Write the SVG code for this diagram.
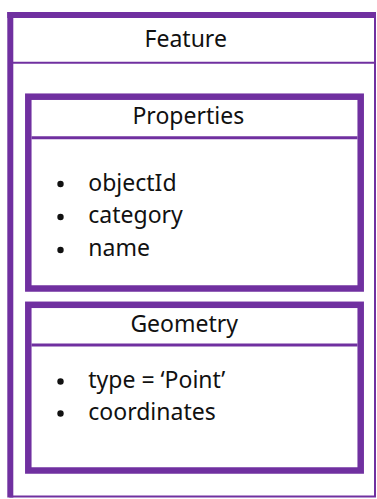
<svg xmlns="http://www.w3.org/2000/svg" width="377" height="499" viewBox="0 0 377 499">
  <style>
    .box { fill: #ffffff; stroke: #7030A0; }
    .thin { stroke: #7030A0; stroke-width: 2; fill: none; }
    .thick { stroke: #7030A0; stroke-width: 6; fill: none; }
    .div { stroke: #7030A0; stroke-width: 3; }
    .t { font-family: "Noto Sans", "Open Sans", sans-serif; font-size: 23px; fill: #111111; }
    .h { text-anchor: middle; }
    .b { fill: #111111; }
  </style>
  <rect width="377" height="499" fill="#ffffff"/>
  <g id="feature">
    <rect x="10.3" y="15" width="364.7" height="481.5" class="thin"/>
    <line x1="10.3" y1="12" x2="10.3" y2="497.5" class="thick"/>
    <line x1="7.3" y1="15" x2="376" y2="15" class="thick"/>
    <line x1="13" y1="62.7" x2="375" y2="62.7" class="thin"/>
    <text x="185.7" y="47.3" class="t h">Feature</text>
  </g>
  <g id="properties">
    <rect x="28.3" y="96.7" width="332.4" height="191.8" class="box" stroke-width="6.5"/>
    <line x1="31.5" y1="137.8" x2="357.5" y2="137.8" class="div"/>
    <text x="188.3" y="124.3" class="t h">Properties</text>
    <circle cx="60.5" cy="184" r="3.2" class="b"/>
    <circle cx="60.5" cy="217" r="3.2" class="b"/>
    <circle cx="60.5" cy="250" r="3.2" class="b"/>
    <text x="88.3" y="190.5" class="t">objectId</text>
    <text x="88.3" y="223" class="t">category</text>
    <text x="88.3" y="256" class="t">name</text>
  </g>
  <g id="geometry">
    <rect x="28.3" y="304.8" width="332.4" height="165.7" class="box" stroke-width="6.5"/>
    <line x1="31.5" y1="345" x2="357.5" y2="345" class="div"/>
    <text x="184.2" y="331.7" class="t h">Geometry</text>
    <circle cx="60.5" cy="381.5" r="3.2" class="b"/>
    <circle cx="60.5" cy="413.5" r="3.2" class="b"/>
    <text x="88.3" y="388" class="t">type = ‘Point’</text>
    <text x="88.3" y="420" class="t">coordinates</text>
  </g>
  <g id="connectors"/>
</svg>
